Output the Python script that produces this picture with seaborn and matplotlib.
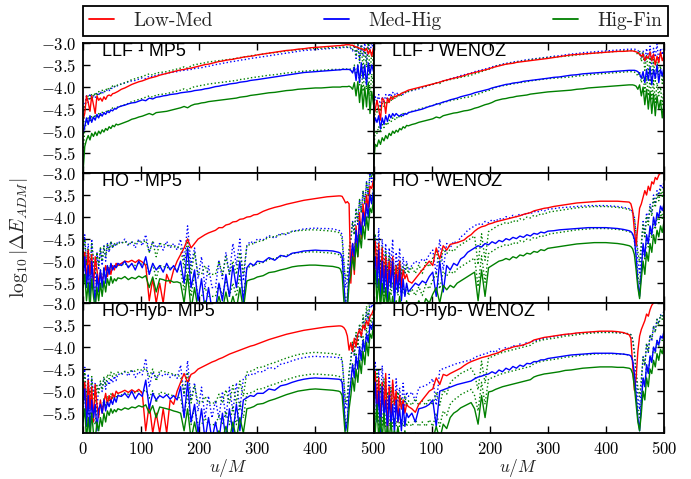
import numpy as np
import matplotlib
matplotlib.use("Agg")
import matplotlib.pyplot as plt
import seaborn as sns
from matplotlib.lines import Line2D
from matplotlib.ticker import FuncFormatter, FixedLocator

# ---------------- data ----------------
# sample grid in u/M (dense where the curves are noisy)
U = np.concatenate([np.arange(0, 61, 3), np.arange(66, 301, 6),
                    np.arange(310, 441, 10), np.arange(443, 501, 3)])

PANELS = ["LLF - MP5", "LLF - WENOZ", "HO - MP5", "HO - WENOZ",
          "HO-Hyb- MP5", "HO-Hyb- WENOZ"]
LEGEND_LABELS = ["Low-Med", "Med-Hig", "Hig-Fin"]

# LLF - MP5
P1_RED = [-4.75, -4.6, -4.2, -4.35, -4.55, -4.2, -4.4, -4.6, -4.2, -4.3, -4.25, -4.32, -4.22, -4.28, -4.2, -4.18, -4.2, -4.15, -4.14, -4.12, -4.1,
          -4.05, -4.02, -3.98, -3.94, -3.91, -3.88, -3.86, -3.83, -3.80, -3.78, -3.76, -3.73, -3.71, -3.69, -3.67, -3.65, -3.63, -3.61, -3.60, -3.58,
          -3.57, -3.55, -3.53, -3.51, -3.49, -3.48, -3.46, -3.44, -3.42, -3.41, -3.39, -3.38, -3.37, -3.35, -3.34, -3.32, -3.31, -3.30, -3.29, -3.27,
          -3.25, -3.23, -3.21, -3.19, -3.17, -3.16, -3.14, -3.13, -3.11, -3.10, -3.09, -3.08, -3.07, -3.06,
          -3.06, -3.05, -3.05, -3.04, -3.04, -3.04, -3.05, -3.05, -3.07, -3.09, -3.1, -3.12, -3.13, -3.14, -3.18, -3.12, -3.25, -3.15, -3.3, -3.1]
P1_BLUE = [-5.05, -4.9, -4.7, -4.85, -4.65, -4.8, -4.68, -4.75, -4.62, -4.7, -4.6, -4.66, -4.58, -4.62, -4.55, -4.58, -4.52, -4.54, -4.49, -4.5, -4.46,
           -4.43, -4.41, -4.38, -4.36, -4.35, -4.32, -4.29, -4.31, -4.25, -4.27, -4.23, -4.22, -4.2, -4.19, -4.17, -4.16, -4.15, -4.13, -4.12, -4.11,
           -4.1, -4.08, -4.07, -4.06, -4.04, -4.03, -4.01, -3.99, -3.98, -3.96, -3.95, -3.93, -3.92, -3.91, -3.89, -3.88, -3.87, -3.85, -3.84, -3.83,
           -3.81, -3.79, -3.77, -3.75, -3.73, -3.71, -3.69, -3.67, -3.66, -3.65, -3.64, -3.63, -3.62, -3.61,
           -3.61, -3.6, -3.6, -3.6, -3.6, -3.6, -3.62, -3.68, -3.55, -3.85, -3.5, -3.9, -3.45, -3.8, -3.5, -3.95, -3.45, -3.7, -3.5, -3.65]
P1_GREEN = [-5.95, -5.35, -5.2, -5.1, -5.2, -5.05, -5.12, -5.02, -5.1, -5.0, -5.06, -4.97, -5.02, -4.94, -4.98, -4.9, -4.94, -4.87, -4.9, -4.84, -4.86,
            -4.83, -4.8, -4.77, -4.73, -4.71, -4.68, -4.66, -4.63, -4.6, -4.63, -4.58, -4.57, -4.56, -4.55, -4.53, -4.51, -4.49, -4.47, -4.44, -4.47,
            -4.42, -4.39, -4.38, -4.36, -4.35, -4.33, -4.32, -4.31, -4.3, -4.29, -4.28, -4.27, -4.26, -4.25, -4.23, -4.22, -4.21, -4.19, -4.18, -4.17,
            -4.15, -4.13, -4.12, -4.1, -4.08, -4.07, -4.05, -4.04, -4.03, -4.02, -4.02, -4.01, -4.0, -4.0,
            -4.0, -3.99, -3.99, -3.99, -3.99, -3.98, -4.0, -4.05, -3.9, -4.2, -3.88, -4.35, -3.95, -4.5, -4.0, -4.45, -3.9, -4.6, -4.1, -4.4]

# LLF - WENOZ
P2_RED = [-4.7, -4.5, -4.3, -4.5, -4.75, -4.25, -4.3, -4.6, -4.25, -4.35, -4.22, -4.28, -4.2, -4.22, -4.17, -4.18, -4.14, -4.13, -4.11, -4.09, -4.07,
          -4.05, -4.03, -4.01, -3.99, -3.97, -3.95, -3.93, -3.91, -3.89, -3.86, -3.84, -3.82, -3.8, -3.78, -3.76, -3.74, -3.71, -3.69, -3.67, -3.65,
          -3.63, -3.61, -3.59, -3.56, -3.54, -3.52, -3.5, -3.48, -3.47, -3.46, -3.44, -3.43, -3.42, -3.41, -3.4, -3.39, -3.38, -3.37, -3.36, -3.35,
          -3.33, -3.31, -3.29, -3.27, -3.26, -3.25, -3.24, -3.23, -3.22, -3.21, -3.2, -3.19, -3.19, -3.18,
          -3.18, -3.18, -3.19, -3.2, -3.22, -3.26, -3.3, -3.25, -3.4, -3.3, -3.35, -3.2, -3.4, -3.25, -3.5, -3.3, -3.45, -3.2, -3.4, -3.3]
P2_BLUE = [-4.95, -4.7, -4.8, -4.65, -4.95, -4.7, -4.85, -4.65, -4.78, -4.62, -4.7, -4.6, -4.66, -4.6, -4.64, -4.66, -4.62, -4.65, -4.6, -4.62, -4.58,
           -4.56, -4.54, -4.52, -4.5, -4.47, -4.44, -4.42, -4.39, -4.37, -4.34, -4.32, -4.29, -4.27, -4.25, -4.22, -4.2, -4.18, -4.16, -4.13, -4.11,
           -4.09, -4.07, -4.05, -4.02, -4.0, -3.98, -3.96, -3.94, -3.93, -3.91, -3.9, -3.89, -3.87, -3.86, -3.85, -3.84, -3.83, -3.82, -3.81, -3.8,
           -3.78, -3.77, -3.75, -3.73, -3.72, -3.7, -3.69, -3.68, -3.67, -3.66, -3.65, -3.64, -3.63, -3.62,
           -3.62, -3.62, -3.62, -3.63, -3.65, -3.7, -3.8, -3.65, -3.9, -3.6, -3.85, -3.55, -3.95, -3.6, -3.8, -3.5, -3.9, -3.6, -3.75, -3.55]
P2_GREEN = [-5.75, -5.3, -5.35, -5.2, -5.3, -5.15, -5.22, -5.1, -5.17, -5.05, -5.1, -5.0, -5.05, -4.98, -5.02, -4.94, -4.97, -4.9, -4.93, -4.87, -4.88,
            -4.85, -4.83, -4.8, -4.78, -4.76, -4.74, -4.72, -4.68, -4.7, -4.65, -4.63, -4.61, -4.59, -4.58, -4.56, -4.54, -4.53, -4.51, -4.48, -4.46,
            -4.43, -4.4, -4.38, -4.35, -4.31, -4.29, -4.27, -4.26, -4.24, -4.23, -4.21, -4.2, -4.19, -4.18, -4.16, -4.15, -4.14, -4.13, -4.12, -4.11,
            -4.1, -4.09, -4.08, -4.07, -4.05, -4.04, -4.02, -4.01, -4.0, -3.99, -3.98, -3.97, -3.96, -3.95,
            -3.95, -3.95, -3.96, -3.98, -4.05, -3.95, -4.2, -4.0, -4.4, -4.05, -4.5, -4.1, -4.6, -4.15, -4.65, -4.2, -4.5, -4.3, -4.7, -4.35]

# HO - MP5
P3_RED = [-5.0, -4.8, -5.5, -4.75, -5.3, -4.85, -5.6, -4.9, -5.2, -5.5, -5.25, -5.45, -5.3, -5.1, -5.35, -5.15, -5.3, -5.1, -5.2, -5.05, -5.1,
          -5.05, -5.0, -5.02, -4.98, -5.03, -4.97, -5.02, -5.1, -5.9, -5.4, -5.95, -5.5, -5.95, -5.3, -5.5, -5.2, -5.0, -4.85, -4.7, -4.5,
          -4.7, -4.6, -4.5, -4.45, -4.4, -4.36, -4.33, -4.3, -4.24, -4.24, -4.18, -4.16, -4.11, -4.1, -4.05, -4.04, -4.0, -3.99, -3.95, -3.94,
          -3.87, -3.82, -3.78, -3.75, -3.71, -3.68, -3.65, -3.62, -3.6, -3.58, -3.56, -3.54, -3.53, -3.52,
          -3.52, -3.53, -3.6, -3.68, -3.65, -3.7, -5.5, -4.6, -5.3, -4.2, -4.9, -3.9, -4.5, -3.7, -4.1, -3.5, -3.8, -3.3, -3.35, -3.15]
P3_BLUE = [-5.4, -4.9, -5.6, -5.1, -5.9, -5.0, -5.5, -5.95, -5.3, -5.7, -5.2, -5.6, -5.15, -5.5, -5.1, -5.3, -5.05, -5.2, -5.1, -5.15, -5.05,
           -5.1, -5.0, -5.15, -5.05, -5.2, -5.0, -5.15, -4.9, -5.3, -5.05, -5.2, -5.1, -5.25, -5.05, -5.2, -5.1, -5.25, -5.0, -5.5, -4.7,
           -5.6, -5.2, -5.9, -5.4, -6.1, -5.6, -6.1, -6.1, -5.5, -5.9, -5.3, -5.8, -5.1, -5.6, -5.0, -5.95, -5.15, -5.05, -5.1, -5.0,
           -5.02, -4.92, -4.98, -4.87, -4.9, -4.82, -4.8, -4.77, -4.76, -4.75, -4.76, -4.76, -4.77, -4.8,
           -4.82, -4.9, -5.5, -6.1, -5.9, -5.3, -5.0, -4.6, -4.9, -4.3, -4.7, -4.1, -4.4, -3.9, -4.2, -3.7, -4.0, -3.5, -3.7, -3.4]
P3_GREEN = [-5.6, -5.3, -5.9, -5.5, -6.1, -5.4, -5.8, -6.1, -5.6, -5.9, -5.5, -5.8, -5.45, -5.7, -5.4, -5.55, -5.35, -5.5, -5.4, -5.45, -5.38,
            -5.4, -5.35, -5.42, -5.37, -5.4, -5.34, -5.38, -5.33, -5.6, -5.36, -5.7, -5.4, -5.42, -5.45, -5.44, -5.48, -5.47, -5.5, -5.95, -5.3,
            -6.1, -5.6, -6.1, -6.1, -5.9, -6.1, -6.1, -6.1, -5.8, -6.1, -5.7, -6.1, -5.8, -6.1, -5.6, -6.1, -5.45, -5.42, -5.4, -5.36,
            -5.33, -5.26, -5.24, -5.2, -5.17, -5.13, -5.11, -5.1, -5.09, -5.09, -5.1, -5.11, -5.12, -5.15,
            -5.18, -5.3, -5.9, -6.2, -6.1, -5.5, -5.3, -4.9, -5.2, -4.6, -4.9, -4.4, -4.7, -4.2, -4.5, -4.0, -4.3, -3.8, -3.9, -3.6]

# HO - WENOZ
P4_RED = [-4.8, -4.55, -5.3, -4.6, -5.7, -4.7, -5.5, -4.9, -5.6, -5.0, -5.4, -4.9, -5.7, -5.1, -5.5, -5.0, -5.6, -5.2, -5.4, -5.3, -5.45,
          -5.5, -5.4, -5.3, -5.2, -5.1, -5.0, -5.1, -4.7, -4.95, -4.65, -4.75, -4.62, -4.6, -4.58, -4.55, -4.52, -4.45, -4.4, -4.32, -4.26,
          -4.22, -4.2, -4.16, -4.14, -4.11, -4.09, -4.07, -4.05, -4.03, -4.01, -3.99, -3.97, -3.94, -3.92, -3.9, -3.86, -3.84, -3.82, -3.8, -3.79,
          -3.76, -3.74, -3.72, -3.7, -3.68, -3.67, -3.66, -3.65, -3.64, -3.64, -3.64, -3.64, -3.65, -3.66,
          -3.7, -3.85, -4.3, -4.65, -4.2, -3.8, -3.7, -3.55, -3.4, -3.5, -3.3, -3.4, -3.2, -3.25, -3.1, -3.15, -3.05, -3.0, -2.95, -2.9]
P4_BLUE = [-5.3, -4.9, -5.6, -4.75, -5.9, -5.0, -5.7, -5.1, -5.9, -5.2, -5.6, -5.0, -5.95, -5.3, -5.7, -5.2, -5.9, -5.4, -5.8, -5.5, -5.7,
           -5.6, -5.5, -5.55, -5.45, -5.5, -5.35, -5.25, -5.8, -5.0, -5.7, -5.1, -5.2, -5.05, -5.1, -4.95, -4.9, -4.8, -4.75, -4.7, -4.65,
           -4.68, -4.6, -4.63, -4.56, -4.6, -4.53, -4.56, -4.49, -4.52, -4.46, -4.49, -4.43, -4.46, -4.4, -4.43, -4.37, -4.39, -4.34, -4.36, -4.32,
           -4.31, -4.29, -4.28, -4.27, -4.26, -4.25, -4.24, -4.24, -4.24, -4.24, -4.25, -4.26, -4.28, -4.31,
           -4.33, -4.38, -4.5, -4.9, -5.5, -5.8, -5.2, -4.6, -4.9, -4.4, -4.6, -4.2, -4.4, -4.0, -4.2, -3.9, -4.0, -3.75, -3.85, -3.7]
P4_GREEN = [-5.6, -5.2, -5.95, -5.4, -6.1, -5.5, -6.1, -5.6, -6.1, -5.7, -6.1, -5.8, -6.1, -5.9, -6.1, -5.8, -6.1, -5.95, -6.1, -5.9, -6.1,
            -5.95, -6.1, -5.9, -6.1, -5.85, -5.95, -5.75, -5.6, -5.95, -5.55, -5.65, -5.55, -5.6, -5.5, -5.45, -5.4, -5.35, -5.3, -5.25, -5.9,
            -5.2, -5.8, -5.15, -5.1, -5.05, -5.0, -4.98, -4.94, -4.97, -4.9, -4.93, -4.86, -4.88, -4.82, -4.84, -4.78, -4.8, -4.74, -4.76, -4.71,
            -4.69, -4.67, -4.65, -4.63, -4.61, -4.6, -4.59, -4.58, -4.58, -4.58, -4.59, -4.6, -4.62, -4.65,
            -4.67, -4.72, -4.85, -5.2, -5.6, -5.85, -5.4, -5.0, -5.3, -4.8, -5.0, -4.6, -4.8, -4.4, -4.6, -4.3, -4.45, -4.2, -4.35, -4.1]

# HO-Hyb- MP5
P5_RED = [-5.1, -4.8, -5.6, -4.75, -5.4, -4.9, -5.7, -4.85, -5.3, -5.6, -5.2, -5.5, -5.25, -5.05, -5.3, -5.1, -5.25, -5.05, -5.15, -5.0, -5.05,
          -5.02, -4.98, -5.03, -4.97, -5.02, -4.96, -5.05, -5.9, -5.3, -5.95, -5.5, -5.95, -5.4, -5.95, -5.2, -5.3, -5.0, -4.8, -4.6, -4.8,
          -4.62, -4.58, -4.5, -4.46, -4.42, -4.38, -4.34, -4.31, -4.27, -4.24, -4.2, -4.16, -4.13, -4.1, -4.07, -4.04, -4.01, -3.98, -3.96, -3.93,
          -3.88, -3.83, -3.79, -3.75, -3.71, -3.68, -3.65, -3.62, -3.6, -3.58, -3.56, -3.54, -3.53, -3.52,
          -3.52, -3.53, -3.56, -3.62, -3.75, -4.07, -3.9, -4.1, -3.8, -4.0, -3.7, -3.6, -3.75, -3.5, -3.6, -3.4, -3.5, -3.3, -3.25, -3.15]
P5_BLUE = [-5.3, -4.95, -5.8, -5.1, -5.95, -5.2, -5.6, -5.3, -5.9, -5.4, -5.3, -5.5, -5.2, -5.45, -5.25, -5.35, -5.2, -5.3, -5.15, -5.25, -5.1,
           -5.12, -5.05, -5.15, -5.0, -5.18, -5.05, -5.12, -4.75, -5.4, -5.05, -5.2, -5.1, -5.15, -5.08, -5.18, -5.1, -5.2, -4.9, -5.6, -4.8,
           -5.7, -5.3, -5.95, -5.4, -6.1, -5.6, -6.1, -5.7, -6.1, -5.5, -6.1, -5.4, -5.95, -5.3, -5.9, -5.2, -5.15, -5.1, -5.12, -5.05,
           -5.05, -4.95, -4.98, -4.88, -4.85, -4.8, -4.76, -4.73, -4.71, -4.7, -4.71, -4.71, -4.72, -4.73,
           -4.74, -4.8, -5.3, -5.9, -5.7, -5.1, -4.8, -4.4, -4.7, -4.2, -4.5, -4.0, -4.3, -3.85, -4.1, -3.7, -3.9, -3.5, -3.6, -3.4]
P5_GREEN = [-5.7, -5.4, -6.1, -5.6, -6.1, -5.5, -5.95, -6.1, -5.7, -5.9, -5.6, -5.8, -5.5, -5.7, -5.45, -5.55, -5.4, -5.5, -5.42, -5.47, -5.4,
            -5.43, -5.38, -5.41, -5.36, -5.38, -5.33, -5.36, -5.31, -5.5, -5.33, -5.6, -5.36, -5.38, -5.4, -5.42, -5.45, -5.47, -5.5, -5.9, -5.4,
            -6.1, -5.7, -6.1, -6.1, -5.95, -6.1, -6.1, -6.1, -5.9, -6.1, -5.8, -6.1, -5.7, -6.1, -5.6, -5.95, -5.4, -5.38, -5.35, -5.3,
            -5.28, -5.22, -5.18, -5.13, -5.08, -5.04, -5.0, -4.98, -4.96, -4.95, -4.96, -4.97, -4.98, -5.0,
            -5.02, -5.1, -5.6, -6.1, -5.95, -5.4, -5.1, -4.7, -5.0, -4.5, -4.8, -4.3, -4.6, -4.1, -4.4, -3.9, -4.2, -3.7, -3.8, -3.5]

# HO-Hyb- WENOZ
P6_RED = [-4.9, -4.55, -5.4, -4.7, -5.8, -4.8, -5.5, -4.6, -5.95, -4.9, -5.6, -4.75, -5.3, -5.0, -5.7, -5.1, -5.4, -5.2, -5.5, -5.3, -5.35,
          -5.4, -5.48, -5.3, -5.2, -5.1, -5.0, -4.95, -4.7, -4.85, -4.62, -4.65, -4.6, -4.56, -4.52, -4.48, -4.42, -4.37, -4.33, -4.3, -4.27,
          -4.24, -4.22, -4.2, -4.17, -4.15, -4.12, -4.08, -4.05, -4.03, -4.0, -3.98, -3.97, -3.95, -3.92, -3.89, -3.84, -3.82, -3.8, -3.78, -3.77,
          -3.75, -3.73, -3.71, -3.7, -3.68, -3.67, -3.66, -3.65, -3.64, -3.64, -3.64, -3.65, -3.67, -3.72,
          -3.8, -4.4, -4.98, -4.7, -4.1, -3.75, -3.6, -3.5, -3.4, -3.25, -3.3, -3.15, -3.05, -3.0, -2.95, -2.95, -2.9, -2.9, -2.9, -2.9]
P6_BLUE = [-5.2, -4.8, -5.7, -5.0, -5.95, -4.9, -5.6, -5.2, -5.9, -5.1, -5.8, -5.3, -5.95, -5.2, -5.7, -5.4, -5.9, -5.3, -5.8, -5.5, -5.6,
           -5.5, -5.7, -5.4, -5.38, -5.35, -5.3, -5.2, -5.8, -5.0, -4.97, -4.94, -4.91, -4.88, -4.85, -4.83, -4.81, -4.79, -4.77, -4.72, -4.68,
           -4.66, -4.63, -4.61, -4.56, -4.6, -4.52, -4.56, -4.48, -4.52, -4.44, -4.48, -4.41, -4.44, -4.37, -4.38, -4.33, -4.33, -4.29, -4.29, -4.26,
           -4.24, -4.22, -4.2, -4.18, -4.17, -4.16, -4.15, -4.14, -4.14, -4.14, -4.14, -4.15, -4.16, -4.18,
           -4.2, -4.3, -4.6, -5.1, -5.6, -5.9, -5.3, -4.7, -4.9, -4.4, -4.6, -4.2, -4.35, -4.0, -4.1, -3.85, -3.95, -3.75, -3.8, -3.65]
P6_GREEN = [-5.5, -5.95, -5.3, -6.1, -5.6, -6.1, -5.5, -6.1, -5.8, -6.1, -5.7, -6.1, -5.9, -6.1, -5.8, -6.1, -5.95, -6.1, -5.9, -6.1, -6.0,
            -6.1, -5.95, -6.1, -6.0, -6.1, -5.95, -6.1, -5.8, -6.1, -5.75, -5.85, -5.6, -5.5, -5.45, -5.38, -5.34, -5.3, -5.26, -5.4, -5.75,
            -5.1, -5.6, -5.02, -5.0, -4.96, -4.93, -4.9, -4.88, -4.86, -4.84, -4.82, -4.8, -4.78, -4.76, -4.74, -4.68, -4.65, -4.63, -4.61, -4.6,
            -4.58, -4.56, -4.53, -4.52, -4.5, -4.48, -4.47, -4.46, -4.45, -4.45, -4.45, -4.46, -4.46, -4.48,
            -4.5, -4.6, -4.9, -5.3, -5.7, -5.9, -5.5, -5.0, -5.2, -4.7, -4.9, -4.5, -4.6, -4.3, -4.45, -4.15, -4.3, -4.05, -4.15, -3.95]

# log10 of the convergence rescaling factors (dotted curves), per panel
SCALE_MED_HIG = [0.50, 0.48, 0.50, 0.50, 0.49, 0.48]
SCALE_HIG_FIN = [0.40, 0.30, 0.30, 0.32, 0.34, 0.30]

RED = [P1_RED, P2_RED, P3_RED, P4_RED, P5_RED, P6_RED]
BLUE = [P1_BLUE, P2_BLUE, P3_BLUE, P4_BLUE, P5_BLUE, P6_BLUE]
GREEN = [P1_GREEN, P2_GREEN, P3_GREEN, P4_GREEN, P5_GREEN, P6_GREEN]

YTICKS = [-5.5, -5.0, -4.5, -4.0, -3.5, -3.0]
XTICKS = [0, 100, 200, 300, 400, 500]

# ---------------- style ----------------
sns.set_style("ticks")
plt.rcParams["font.family"] = ["DejaVu Sans"]
plt.rcParams["mathtext.fontset"] = "cm"
plt.rcParams["axes.edgecolor"] = "black"
plt.rcParams["axes.linewidth"] = 1.3

C_RED, C_BLUE, C_GREEN = "#ff0000", "#0000ff", "#008000"

fig, axes = plt.subplots(3, 2, figsize=(6.91, 4.79), dpi=100)
fig.subplots_adjust(left=83 / 691, right=664 / 691, top=1 - 43 / 479,
                    bottom=1 - 433 / 479, wspace=0, hspace=0)

for i, ax in enumerate(axes.flat):
    row, col = divmod(i, 2)
    red = np.array(RED[i])
    blue = np.array(BLUE[i])
    green = np.array(GREEN[i])
    s1, s2 = SCALE_MED_HIG[i], SCALE_HIG_FIN[i]

    kw = dict(ax=ax, legend=False, errorbar=None, lw=1.0)
    # rescaled (dotted) curves
    sns.lineplot(x=U, y=blue + s1, color=C_BLUE, linestyle=":", **kw)
    sns.lineplot(x=U, y=green + s2, color=C_GREEN, linestyle=":", **kw)
    sns.lineplot(x=U, y=green + s1 + s2, color=C_GREEN, linestyle=":", **kw)
    # differences
    sns.lineplot(x=U, y=red, color=C_RED, **kw)
    sns.lineplot(x=U, y=blue, color=C_BLUE, **kw)
    sns.lineplot(x=U, y=green, color=C_GREEN, **kw)

    ax.set_xlim(0, 500)
    ax.set_ylim(-5.95, -3.0)
    ax.xaxis.set_major_locator(FixedLocator(XTICKS))
    ax.yaxis.set_major_locator(FixedLocator(YTICKS))
    ax.yaxis.set_major_formatter(FuncFormatter(lambda v, p: r"$%.1f$" % v))
    if col == 1:
        ax.xaxis.set_major_formatter(FuncFormatter(lambda v, p: "" if v == 0 else r"$%d$" % v))
    else:
        ax.xaxis.set_major_formatter(FuncFormatter(lambda v, p: r"$%d$" % v))
    ax.tick_params(direction="in", top=True, right=True, length=5, width=1,
                   labelsize=12, pad=5, colors="black")
    ax.tick_params(labelbottom=(row == 2), labelleft=(col == 0))
    ax.set_xlabel("")
    ax.set_ylabel("")
    for sp in ax.spines.values():
        sp.set_visible(True)
        sp.set_color("black")
        sp.set_linewidth(1.3)
    ax.text(0.065, 1.0, PANELS[i], transform=ax.transAxes, ha="left", va="top",
            fontsize=13, family=["Liberation Sans", "DejaVu Sans"], color="black")
    if row == 2:
        ax.set_xlabel(r"$u/M$", fontsize=12.5, labelpad=-1)

fig.text(0.028, 0.503, r"$\log_{10}|\Delta E_{ADM}|$", rotation=90,
         ha="center", va="center", fontsize=14)

handles = [Line2D([], [], color=c, lw=1.3) for c in (C_RED, C_BLUE, C_GREEN)]
leg = fig.legend(handles, LEGEND_LABELS, loc="lower left",
                 bbox_to_anchor=(83 / 691, 1 - 36 / 479, 585 / 691, 0.05),
                 mode="expand", ncol=3, borderaxespad=0, frameon=True,
                 fancybox=False, handlelength=1.3, borderpad=0.3,
                 handletextpad=1.0,
                 prop={"family": ["cmr10", "DejaVu Serif"], "size": 14})
leg.get_frame().set_edgecolor("black")
leg.get_frame().set_linewidth(1.3)
leg.get_frame().set_alpha(1)

fig.savefig("out.png", dpi=100)
